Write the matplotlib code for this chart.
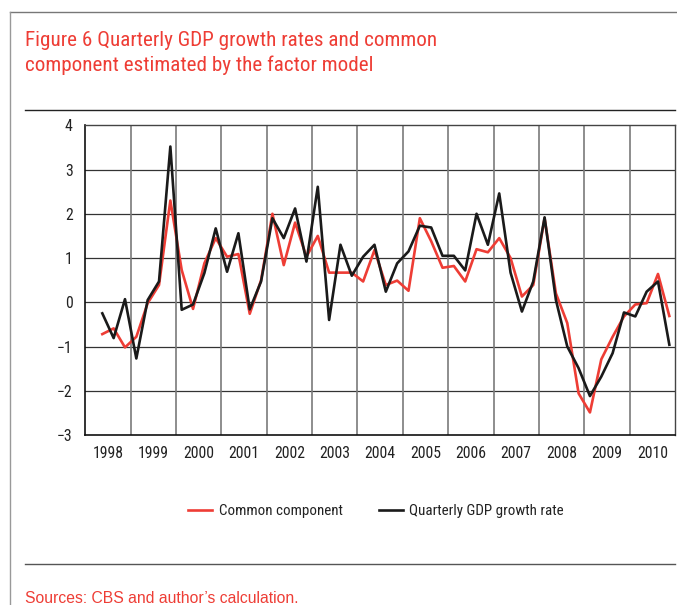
"""
Figure 6: quarterly GDP growth vs common component from the factor model
"""

import numpy as np
import pandas as pd
import matplotlib
matplotlib.use("Agg")
import matplotlib.pyplot as plt
from matplotlib.lines import Line2D
from matplotlib import font_manager

# ------------------------------------------------------------
# Data (1998Q2 - 2010Q4)
# ------------------------------------------------------------
quarters = pd.period_range("1998Q2", "2010Q4", freq="Q")

gdp_growth = [
    -0.25, -0.81, 0.07, -1.27,                 # 1998Q2 - 1999Q1
    0.05, 0.47, 3.52, -0.17,                   # 1999
    -0.05, 0.66, 1.67, 0.69,                   # 2000
    1.56, -0.16, 0.47, 1.90,                   # 2001
    1.45, 2.12, 0.92, 2.61,                    # 2002
    -0.40, 1.30, 0.60, 1.03,                   # 2003
    1.30, 0.24, 0.88, 1.15,                    # 2004
    1.73, 1.69, 1.05, 1.05,                    # 2005
    0.72, 2.00, 1.30, 2.46,                    # 2006
    0.67, -0.21, 0.47, 1.92,                   # 2007
    0.05, -1.00, -1.49, -2.12,                 # 2008
    -1.68, -1.15, -0.23, -0.32,                # 2009
    0.24, 0.47, -0.96,                         # 2010
]

common_component = [
    -0.72, -0.59, -1.02, -0.78,
    -0.02, 0.39, 2.30, 0.73,
    -0.15, 0.88, 1.45, 1.03,
    1.09, -0.26, 0.50, 2.00,
    0.84, 1.80, 1.03, 1.50,
    0.67, 0.67, 0.67, 0.47,
    1.18, 0.39, 0.49, 0.26,
    1.90, 1.38, 0.78, 0.82,
    0.47, 1.20, 1.13, 1.45,
    1.00, 0.13, 0.39, 1.90,
    0.20, -0.47, -2.06, -2.49,
    -1.29, -0.78, -0.32, -0.05,
    -0.02, 0.64, -0.31,
]

years = list(range(1998, 2011))
y_ticks = [-3, -2, -1, 0, 1, 2, 3, 4]

# quarter midpoints in "year" units
x = quarters.year + (quarters.quarter - 0.5) / 4

RED = "#EE3D35"
BLACK = "#1a1a1a"

# narrow face if there is one
installed = {f.name for f in font_manager.fontManager.ttflist}
narrow = [n for n in ["Roboto Condensed", "Liberation Sans Narrow", "DejaVu Sans Condensed"] if n in installed]
plt.rcParams["font.family"] = narrow + ["Roboto", "DejaVu Sans"]

W, H = 677, 605
fig = plt.figure(figsize=(W / 100, H / 100), dpi=100)


def px(xp, yp):
    return xp / W, 1 - yp / H


# ------------------------------------------------------------
# Frame lines and texts
# ------------------------------------------------------------
fig.add_artist(Line2D([10 / W, 1], [1 - 12 / H] * 2, color="#777777", lw=1.0))
fig.add_artist(Line2D([10 / W] * 2, [0, 1 - 12 / H], color="#999999", lw=1.0))
fig.add_artist(Line2D([25 / W, 675 / W], [1 - 110 / H] * 2, color="#222222", lw=1.0))
fig.add_artist(Line2D([25 / W, 675 / W], [1 - 564 / H] * 2, color="#555555", lw=1.0))

fig.text(*px(25, 31), "Figure 6 Quarterly GDP growth rates and common\ncomponent estimated by the factor model",
         color=RED, fontsize=15.2, va="top", ha="left", linespacing=1.38)

fig.text(*px(25, 603), "Sources: CBS and author\u2019s calculation.",
         color=RED, fontsize=11.3, family=["Liberation Sans", "DejaVu Sans"],
         va="baseline", ha="left")

# ------------------------------------------------------------
# Chart
# ------------------------------------------------------------
ax = fig.add_axes([85.3 / W, 1 - 435 / H, (675 - 85.3) / W, (435 - 125.3) / H])

ax.plot(x, common_component, color=RED, lw=1.9, label="Common component", zorder=3)
ax.plot(x, gdp_growth, color=BLACK, lw=1.9, label="Quarterly GDP growth rate", zorder=4)

ax.set_xlim(years[0], years[-1] + 1)
ax.set_ylim(y_ticks[0], y_ticks[-1])

# horizontal grid (dark), vertical year separators (grey)
for yv in y_ticks[1:-1]:
    ax.axhline(yv, color="#333333", lw=0.9, zorder=1)
for yr in years[1:]:
    ax.axvline(yr, color="#7a7a7a", lw=1.2, zorder=1)

ax.set_yticks(y_ticks)
ax.set_yticklabels([("\u2212%d" % -v) if v < 0 else str(v) for v in y_ticks])
ax.set_xticks([yr + 0.5 for yr in years])
ax.set_xticklabels([str(yr) for yr in years])
ax.tick_params(axis="both", length=0, labelsize=11.3, colors="#222222")
ax.tick_params(axis="y", pad=9)
ax.tick_params(axis="x", pad=8)

for side in ["left", "bottom"]:
    ax.spines[side].set_color("#111111")
    ax.spines[side].set_linewidth(1.2)
for side in ["top", "right"]:
    ax.spines[side].set_color("#444444")
    ax.spines[side].set_linewidth(1.0)

fig.legend(loc="center", bbox_to_anchor=px(376, 511), ncol=2, frameon=False,
           fontsize=10.8, handlelength=1.6, handletextpad=0.45, columnspacing=2.4,
           labelcolor="#222222")

fig.savefig("out.png", dpi=100, facecolor="white")
print("saved out.png")
